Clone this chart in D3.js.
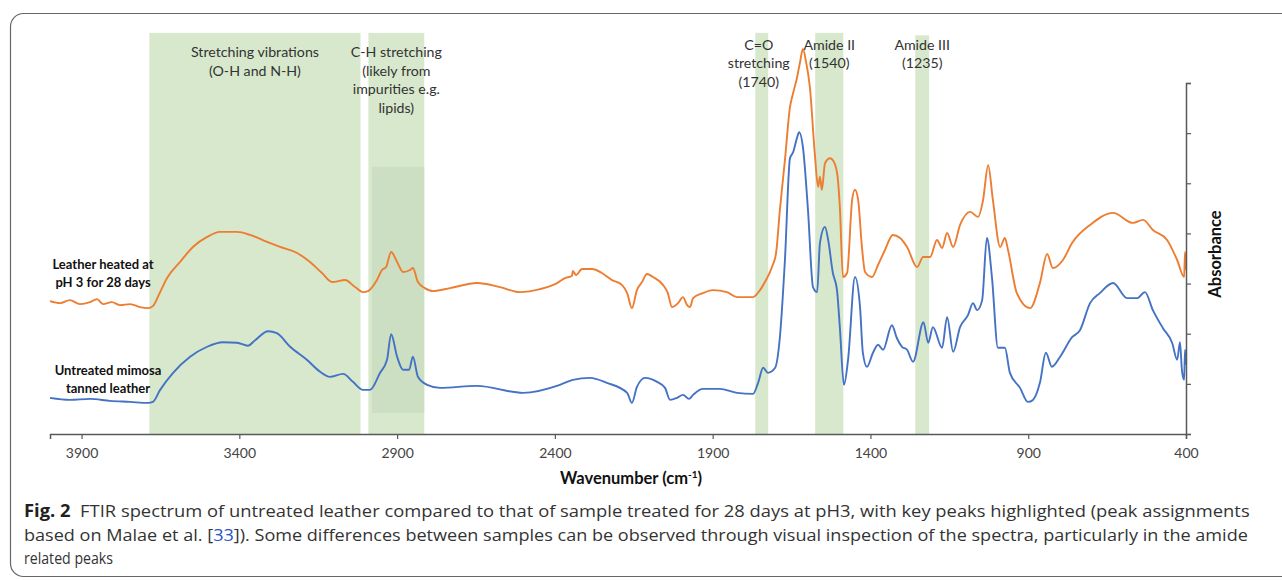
<!DOCTYPE html>
<html><head><meta charset="utf-8">
<script src="https://cdn.jsdelivr.net/npm/d3@7"></script>
<style>body{margin:0;background:#fff;} svg{display:block;}</style>
</head><body>
<svg id="chart" width="1282" height="580"></svg>
<script>
// ---------- data ----------
const xTickValues = [3900, 3400, 2900, 2400, 1900, 1400, 900, 400];
const yTickValues = [0, 0.1, 0.2, 0.3, 0.4, 0.5, 0.6, 0.7];

// highlighted regions [from, to] in cm-1 and top in absorbance units
const bandRanges = [[3685, 3016], [2991, 2814], [1765, 1724], [1575, 1486], [1258, 1214]];
const bandTops = [0.80, 0.80, 0.80, 0.80, 0.795];
const bandLabels = [
  ["Stretching vibrations", "(O-H and N-H)"],
  ["C-H stretching", "(likely from", "impurities e.g.", "lipids)"],
  ["C=O", "stretching", "(1740)"],
  ["Amide II", "(1540)"],
  ["Amide III", "(1235)"]
];
const innerBand = [2980, 2814, 0.042, 0.533];

const seriesNames = [
  ["Leather heated at", "pH 3 for 28 days"],
  ["Untreated mimosa", "tanned leather"]
];

// [wavenumber, absorbance]
const heatedSpectrum = [
[4000,0.265],[3968,0.261],[3937,0.267],[3905,0.259],[3873,0.263],[3851,0.269],[3832,0.259],[3804,0.263],
[3778,0.257],[3746,0.259],[3715,0.253],[3689,0.251],[3674,0.255],[3651,0.283],[3629,0.311],[3588,0.343],
[3547,0.373],[3502,0.393],[3461,0.403],[3407,0.403],[3366,0.397],[3312,0.383],[3271,0.373],[3217,0.361],
[3176,0.343],[3138,0.321],[3106,0.303],[3065,0.307],[3033,0.293],[3008,0.283],[2992,0.285],[2964,0.307],
[2948,0.327],[2935,0.333],[2919,0.363],[2900,0.343],[2881,0.323],[2859,0.327],[2850,0.331],[2834,0.303],
[2812,0.291],[2786,0.285],[2732,0.291],[2647,0.301],[2574,0.293],[2511,0.283],[2447,0.289],[2393,0.301],
[2368,0.311],[2346,0.315],[2343,0.325],[2333,0.317],[2314,0.329],[2282,0.329],[2251,0.321],[2219,0.307],
[2187,0.297],[2171,0.281],[2156,0.251],[2140,0.287],[2124,0.303],[2108,0.319],[2089,0.313],[2057,0.297],
[2042,0.281],[2029,0.253],[2010,0.261],[1994,0.273],[1981,0.257],[1972,0.253],[1962,0.271],[1931,0.281],
[1899,0.287],[1855,0.283],[1823,0.273],[1772,0.273],[1750,0.287],[1731,0.307],[1712,0.333],[1699,0.361],
[1687,0.447],[1671,0.546],[1655,0.652],[1645,0.680],[1633,0.710],[1623,0.742],[1614,0.768],[1604,0.742],
[1592,0.692],[1576,0.556],[1566,0.493],[1560,0.513],[1554,0.487],[1544,0.540],[1528,0.550],[1519,0.546],
[1506,0.522],[1497,0.453],[1487,0.313],[1474,0.321],[1458,0.467],[1449,0.487],[1439,0.467],[1427,0.373],
[1417,0.323],[1395,0.313],[1376,0.337],[1354,0.367],[1329,0.397],[1306,0.391],[1284,0.373],[1252,0.333],
[1233,0.353],[1211,0.353],[1189,0.387],[1173,0.371],[1157,0.401],[1138,0.373],[1116,0.417],[1084,0.443],
[1059,0.433],[1043,0.467],[1027,0.536],[1012,0.467],[989,0.373],[974,0.391],[964,0.367],[936,0.281],
[894,0.251],[863,0.301],[840,0.359],[822,0.331],[790,0.347],[761,0.381],[704,0.417],[631,0.441],
[568,0.421],[536,0.427],[505,0.407],[460,0.387],[428,0.347],[406,0.313],[403,0.363],[400,0.327]
];

const untreatedSpectrum = [
[4000,0.072],[3937,0.068],[3873,0.070],[3810,0.066],[3746,0.064],[3689,0.062],[3674,0.064],[3651,0.088],
[3610,0.122],[3556,0.154],[3502,0.174],[3452,0.183],[3407,0.182],[3373,0.176],[3350,0.187],[3309,0.205],
[3281,0.201],[3239,0.174],[3186,0.148],[3144,0.124],[3113,0.114],[3071,0.120],[3040,0.104],[3008,0.088],
[2986,0.088],[2954,0.122],[2932,0.148],[2919,0.199],[2900,0.154],[2881,0.128],[2862,0.128],[2850,0.154],
[2834,0.114],[2805,0.098],[2764,0.092],[2647,0.096],[2501,0.082],[2384,0.098],[2343,0.108],[2289,0.112],
[2235,0.102],[2171,0.082],[2156,0.062],[2140,0.094],[2114,0.112],[2076,0.104],[2051,0.092],[2035,0.068],
[2013,0.072],[1994,0.078],[1975,0.070],[1962,0.078],[1931,0.090],[1877,0.090],[1823,0.082],[1772,0.080],
[1756,0.102],[1740,0.132],[1725,0.122],[1702,0.132],[1687,0.193],[1671,0.347],[1655,0.550],[1645,0.562],
[1633,0.590],[1626,0.602],[1614,0.572],[1598,0.447],[1582,0.293],[1569,0.283],[1560,0.381],[1544,0.413],
[1534,0.387],[1519,0.321],[1506,0.287],[1497,0.213],[1484,0.098],[1471,0.148],[1449,0.313],[1433,0.253],
[1424,0.162],[1411,0.134],[1392,0.162],[1376,0.178],[1360,0.168],[1332,0.217],[1316,0.191],[1300,0.174],
[1284,0.168],[1265,0.144],[1232,0.223],[1217,0.182],[1202,0.213],[1173,0.172],[1157,0.233],[1138,0.164],
[1116,0.213],[1091,0.237],[1075,0.261],[1062,0.247],[1046,0.267],[1031,0.391],[1015,0.313],[996,0.172],
[974,0.172],[958,0.122],[926,0.092],[901,0.064],[885,0.068],[863,0.102],[844,0.162],[825,0.134],
[799,0.154],[761,0.193],[736,0.207],[704,0.261],[673,0.281],[631,0.301],[587,0.271],[555,0.271],
[530,0.283],[505,0.247],[473,0.211],[444,0.182],[428,0.148],[419,0.183],[413,0.128],[406,0.108],
[403,0.168],[400,0.138]
];

const seriesColors = ["#ed7d31", "#4472c4"];

const captionLines = [
  [["Fig. 2", "bold", "#231f20"], ["  FTIR spectrum of untreated leather compared to that of sample treated for 28 days at pH3, with key peaks highlighted (peak assignments", "normal", "#333"]],
  [["based on Malae et al. [", "normal", "#333"], ["33", "normal", "#2a54c8"], ["]). Some differences between samples can be observed through visual inspection of the spectra, particularly in the amide", "normal", "#333"]],
  [["related peaks", "normal", "#333"]]
];
const captionWidths = [1226, 1225, 89];

// ---------- drawing ----------
const svg = d3.select("#chart");
const x = d3.scaleLinear().domain([4000, 400]).range([50, 1186]);
const y = d3.scaleLinear().domain([0, 0.7]).range([434, 83]);
const chartFont = "Lato, 'Open Sans', sans-serif";

// frame
svg.append("rect").attr("x", 10.5).attr("y", 13.5).attr("width", 1320).attr("height", 563)
  .attr("rx", 13).attr("fill", "none").attr("stroke", "#666").attr("stroke-width", 1.2);

// bands
const gBands = svg.append("g");
bandRanges.forEach((b, i) => {
  gBands.append("rect")
    .attr("x", x(b[0])).attr("width", x(b[1]) - x(b[0]))
    .attr("y", y(bandTops[i])).attr("height", y(0) - y(bandTops[i]))
    .attr("fill", "#d7e8cc");
});
gBands.append("rect")
  .attr("x", x(innerBand[0])).attr("width", x(innerBand[1]) - x(innerBand[0]))
  .attr("y", y(innerBand[3])).attr("height", y(innerBand[2]) - y(innerBand[3]))
  .attr("fill", "#cddfc2");

// band labels
const labelFirstBaseline = [57, 57, 49.5, 49.5, 49.5];
bandLabels.forEach((lines, i) => {
  const cx = x((bandRanges[i][0] + bandRanges[i][1]) / 2);
  const t = svg.append("text").attr("text-anchor", "middle")
    .attr("font-family", chartFont).attr("font-size", 14.2).attr("fill", "#333");
  lines.forEach((s, j) => t.append("tspan").attr("x", i === 2 ? cx - 3 : cx).attr("y", labelFirstBaseline[i] + j * 18.6).text(s));
});

// lines
const line = d3.line().x(d => x(d[0])).y(d => y(d[1])).curve(d3.curveMonotoneX);
[heatedSpectrum, untreatedSpectrum].forEach((s, i) => {
  svg.append("path").datum(s).attr("d", line).attr("fill", "none")
    .attr("stroke", seriesColors[i]).attr("stroke-width", 1.9).attr("stroke-linejoin", "round");
});

// series labels
const seriesLabelPos = [[103, 269], [108, 375]];
seriesNames.forEach((lines, i) => {
  const t = svg.append("text").attr("text-anchor", "middle")
    .attr("font-family", chartFont).attr("font-weight", "bold")
    .attr("font-size", 13).attr("fill", "#111");
  lines.forEach((s, j) => t.append("tspan").attr("x", seriesLabelPos[i][0]).attr("y", seriesLabelPos[i][1] + j * 17.5).text(s));
});

// x axis
const xAxis = svg.append("g").attr("transform", "translate(0,434)")
  .call(d3.axisBottom(x).tickValues(xTickValues).tickSize(5).tickPadding(9).tickFormat(d3.format("d")));
xAxis.select(".domain").attr("stroke", "#595959").attr("stroke-width", 1.5);
xAxis.selectAll(".tick line").attr("stroke", "#595959").attr("stroke-width", 1.2);
xAxis.selectAll(".tick text").attr("font-family", chartFont)
  .attr("font-size", 14).attr("fill", "#444");

// y axis (right)
const yAxis = svg.append("g").attr("transform", "translate(1186,0)")
  .call(d3.axisRight(y).tickValues(yTickValues).tickSize(5).tickFormat(""));
yAxis.select(".domain").attr("stroke", "#595959").attr("stroke-width", 1.5);
yAxis.selectAll(".tick line").attr("stroke", "#595959").attr("stroke-width", 1.2);

// axis titles
const xt = svg.append("text").attr("x", 631).attr("y", 484).attr("text-anchor", "middle")
  .attr("font-family", chartFont).attr("font-weight", "bold")
  .attr("font-size", 16.5).attr("fill", "#111");
xt.append("tspan").text("Wavenumber (cm");
xt.append("tspan").attr("font-size", 10).attr("dy", -6).text("-1");
xt.append("tspan").attr("dy", 6).text(")");

svg.append("text").attr("transform", "translate(1221,254) rotate(-90)").attr("text-anchor", "middle")
  .attr("font-family", chartFont).attr("font-weight", "bold")
  .attr("font-size", 16.5).attr("fill", "#111").text("Absorbance");

// caption
const capBase = [517, 540.5, 564];
captionLines.forEach((parts, i) => {
  const t = svg.append("text").attr("font-family", "'Open Sans', 'Noto Sans', sans-serif")
    .attr("font-size", 17).attr("xml:space", "preserve").style("white-space", "pre");
  parts.forEach(p => t.append("tspan").attr("font-weight", p[1]).attr("fill", p[2]).text(p[0]));
  const w = t.node().getComputedTextLength();
  const sx = captionWidths[i] / w;
  t.attr("transform", `translate(24,${capBase[i]}) scale(${sx},1)`);
});
</script>
</body></html>
